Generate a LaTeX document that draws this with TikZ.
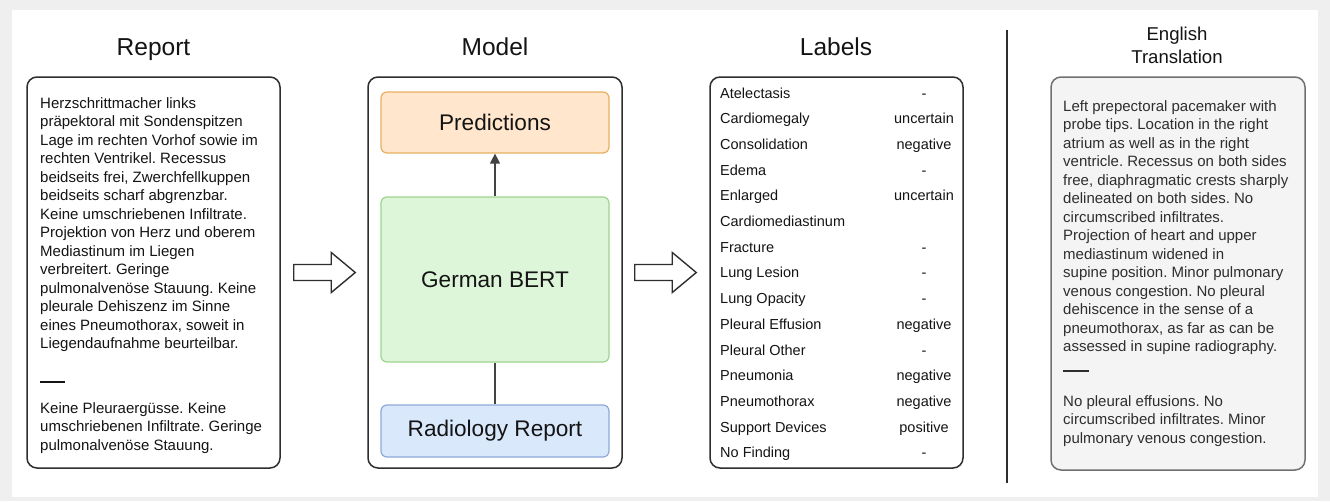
\documentclass[tikz,border=0pt]{standalone}
\usepackage{fontspec}
\setmainfont{Liberation Sans}
\usetikzlibrary{arrows.meta,calc}
\frenchspacing
\definecolor{bgpanel}{HTML}{EFEFEF}
\definecolor{edgedark}{HTML}{2E2E2E}
\definecolor{textdark}{HTML}{141414}
\definecolor{textgrey}{HTML}{2E2E2E}
\definecolor{predfill}{HTML}{FFE6CC}
\definecolor{predline}{HTML}{E8B060}
\definecolor{bertfill}{HTML}{DDF5D8}
\definecolor{bertline}{HTML}{9FD48F}
\definecolor{radfill}{HTML}{DAE8FC}
\definecolor{radline}{HTML}{8EA9D8}
\definecolor{transfill}{HTML}{F4F4F4}
\definecolor{transline}{HTML}{707070}
\tikzset{
  bigbox/.style={draw=edgedark, line width=1.5pt, rounded corners=10pt, fill=white, minimum width=253pt, minimum height=391pt, inner sep=0pt},
  innerbox/.style={rounded corners=6pt, line width=1.2pt, minimum width=228pt, inner sep=0pt, font=\fontsize{22.6}{26}\selectfont, text=textdark},
  titletext/.style={font=\fontsize{24.5}{28}\selectfont, text=textdark, inner sep=0pt, anchor=base},
  bodytext/.style={font=\fontsize{15}{18.5}\selectfont, text=textdark, inner sep=0pt, align=left, anchor=north west},
  labeltext/.style={font=\fontsize{14.5}{17}\selectfont, text=textdark, inner sep=0pt},
  blockarrow/.style={draw=edgedark, line width=1.4pt, fill=white, line join=miter},
  link/.style={draw=edgedark!90, line width=1.3pt}
}
\begin{document}
\begin{tikzpicture}[x=1pt,y=-1pt]
\useasboundingbox (0,0) rectangle (1330,501);
\fill[bgpanel] (0,0) rectangle (1330,501);
\fill[white] (12,10) rectangle (1318,497);

% titles
\node[titletext] (treport) at (153.5,55) {Report};
\node[titletext] (tmodel) at (495,55) {Model};
\node[titletext] (tlabels) at (836,55) {Labels};
\node[font=\fontsize{18.6}{23}\selectfont, text=textdark, inner sep=0pt, align=center, anchor=base] (ttrans) at (1177,63) {English\\Translation};

% report box
\node[bigbox] (report) at (153.5,272.5) {};
\node[bodytext] (reporta) at (40,97) {Herzschrittmacher links\\
präpektoral mit Sondenspitzen\\
Lage im rechten Vorhof sowie im\\
rechten Ventrikel. Recessus\\
beidseits frei, Zwerchfellkuppen\\
beidseits scharf abgrenzbar.\\
Keine umschriebenen Infiltrate.\\
Projektion von Herz und oberem\\
Mediastinum im Liegen\\
verbreitert. Geringe\\
pulmonalvenöse Stauung. Keine\\
pleurale Dehiszenz im Sinne\\
eines Pneumothorax, soweit in\\
Liegendaufnahme beurteilbar.};
\node[inner sep=0pt, anchor=west, text=textdark] (reportdash) at (40,382) {\rule{25pt}{1.1pt}};
\node[bodytext] (reportb) at (40,402) {Keine Pleuraergüsse. Keine\\
umschriebenen Infiltrate. Geringe\\
pulmonalvenöse Stauung.};

% model box
\node[bigbox, minimum width=254pt] (model) at (495,272.5) {};
\node[innerbox, draw=predline, fill=predfill, minimum height=61pt] (pred) at (495,122.5) {Predictions};
\node[innerbox, draw=bertline, fill=bertfill, minimum height=165pt] (bert) at (495,279.5) {German BERT};
\node[innerbox, draw=radline, fill=radfill, minimum height=52pt] (radio) at (495,431) {Radiology Report};
\draw[link, -{Triangle[width=10pt,length=10pt]}] (bert.north) -- (pred.south);
\draw[link] (radio.north) -- (bert.south);

% block arrows
\draw[blockarrow] let \p1=($(report.east)+(13,0)$), \p2=($(model.west)+(-12,0)$) in
  (\x1,\y1+8pt) -- (\x2-24pt,\y1+8pt) -- (\x2-24pt,\y1+20pt) -- (\x2,\y1) -- (\x2-24pt,\y1-20pt) -- (\x2-24pt,\y1-8pt) -- (\x1,\y1-8pt) -- cycle;

% labels box
\node[bigbox] (labels) at (836.5,272.5) {};
\draw[blockarrow] let \p1=($(model.east)+(12,0)$), \p2=($(labels.west)+(-13,0)$) in
  (\x1,\y1+8pt) -- (\x2-24pt,\y1+8pt) -- (\x2-24pt,\y1+20pt) -- (\x2,\y1) -- (\x2-24pt,\y1-20pt) -- (\x2-24pt,\y1-8pt) -- (\x1,\y1-8pt) -- cycle;
\foreach \name/\val [count=\i from 0] in {Atelectasis/-, Cardiomegaly/uncertain, Consolidation/negative, Edema/-, Enlarged/uncertain, Cardiomediastinum/, Fracture/-, Lung Lesion/-, Lung Opacity/-, Pleural Effusion/negative, Pleural Other/-, Pneumonia/negative, Pneumothorax/negative, Support Devices/positive, No Finding/-}{
  \node[labeltext, anchor=base west] (lab\i) at (720,{98+\i*25.71}) {\name};
  \node[labeltext, anchor=base] (val\i) at (924,{98+\i*25.71}) {\val};
}

% separator
\coordinate (septop) at (1007,30);
\coordinate (sepbot) at (1007,483);
\draw[edgedark, line width=1.5pt] (septop) -- (sepbot);

% translation box
\node[bigbox, draw=transline, fill=transfill, minimum width=254pt, minimum height=393pt] (trans) at (1178,273.5) {};
\node[bodytext, text=textgrey] (transa) at (1063,100) {Left prepectoral pacemaker with\\
probe tips. Location in the right\\
atrium as well as in the right\\
ventricle. Recessus on both sides\\
free, diaphragmatic crests sharply\\
delineated on both sides. No\\
circumscribed infiltrates.\\
Projection of heart and upper\\
mediastinum widened in\\
supine position. Minor pulmonary\\
venous congestion. No pleural\\
dehiscence in the sense of a\\
pneumothorax, as far as can be\\
assessed in supine radiography.};
\node[inner sep=0pt, anchor=west, text=textgrey] (transdash) at (1063,371) {\rule{26pt}{1.1pt}};
\node[bodytext, text=textgrey] (transb) at (1063,395) {No pleural effusions. No\\
circumscribed infiltrates. Minor\\
pulmonary venous congestion.};
\end{tikzpicture}
\end{document}
